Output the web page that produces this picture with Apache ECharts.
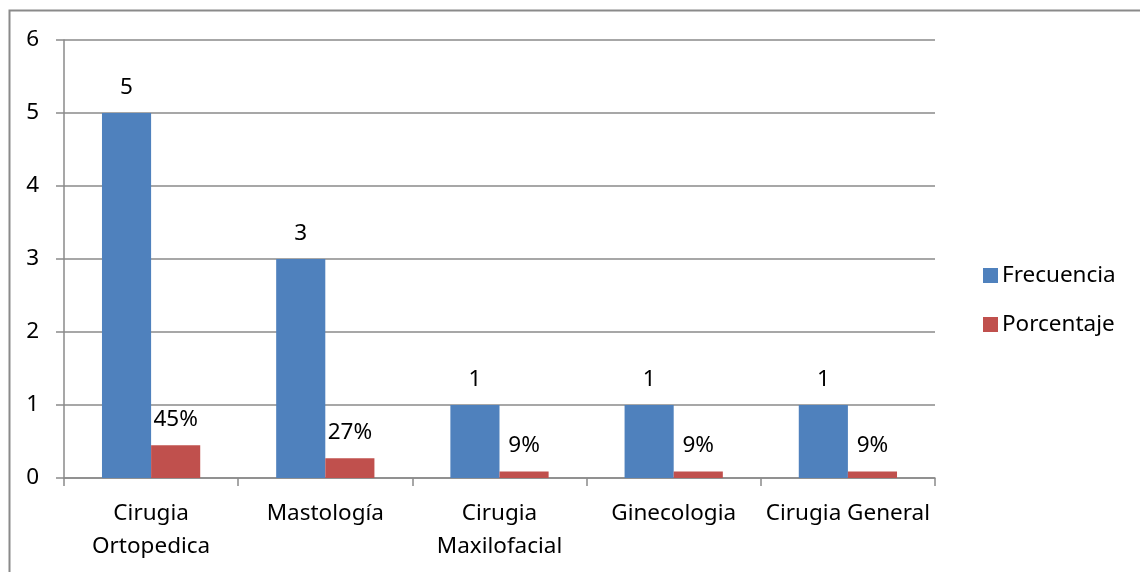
<!DOCTYPE html>
<html>
<head>
<meta charset="utf-8">
<script src="https://cdn.jsdelivr.net/npm/echarts@6/dist/echarts.min.js"></script>
<style>
  html, body { margin: 0; padding: 0; background: #fff; }
  #chart { width: 1140px; height: 572px; }
</style>
</head>
<body>
<div id="chart"></div>
<script>
// Cirugías por especialidad: frecuencia y porcentaje
const categories = ['Cirugia\nOrtopedica', 'Mastología', 'Cirugia\nMaxilofacial', 'Ginecologia', 'Cirugia General'];
const frecuencia = [5, 3, 1, 1, 1];
const porcentaje = [0.45, 0.27, 0.09, 0.09, 0.09];
const yTicks = [0, 1, 2, 3, 4, 5, 6];

const FONT = 'Noto Sans';
const FS = 22.5;
const GRAY = '#8a8a8a';

const chart = echarts.init(document.getElementById('chart'), null, { renderer: 'canvas' });

chart.setOption({
  backgroundColor: '#fff',
  animation: false,
  textStyle: { fontFamily: FONT, color: '#000' },
  graphic: [{
    type: 'rect',
    shape: { x: 9.5, y: 10.5, width: 1200, height: 700 },
    style: { fill: 'none', stroke: '#8a8a8a', lineWidth: 2 },
    silent: true,
    z: -10
  }],
  grid: { left: 64, right: 205, top: 40, bottom: 94, containLabel: false },
  legend: {
    orient: 'vertical',
    left: 978,
    top: 259,
    itemWidth: 15,
    itemHeight: 15,
    itemGap: 26,
    icon: 'rect',
    textStyle: { fontFamily: FONT, fontSize: FS, lineHeight: 21, color: '#000', padding: [0, 0, 0, -1] },
    data: ['Frecuencia', 'Porcentaje']
  },
  xAxis: {
    type: 'category',
    data: categories,
    axisLine: { lineStyle: { color: GRAY, width: 1.5 } },
    axisTick: { show: true, length: 8, lineStyle: { color: GRAY, width: 1.5 } },
    axisLabel: {
      fontFamily: FONT, fontSize: FS, color: '#000',
      margin: 19, lineHeight: 33, interval: 0
    }
  },
  yAxis: {
    type: 'value',
    min: yTicks[0],
    max: yTicks[yTicks.length - 1],
    interval: 1,
    axisLine: { show: true, lineStyle: { color: GRAY, width: 1.5 } },
    axisTick: { show: true, length: 8, lineStyle: { color: GRAY, width: 1.5 } },
    splitLine: { show: true, lineStyle: { color: GRAY, width: 1.5 } },
    axisLabel: { fontFamily: FONT, fontSize: FS, color: '#000', margin: 25 }
  },
  series: [
    {
      name: 'Frecuencia',
      type: 'bar',
      data: frecuencia,
      barGap: '0%',
      barCategoryGap: '43.6%',
      itemStyle: { color: '#4F81BD' },
      label: {
        show: true, position: 'top', distance: 15,
        fontFamily: FONT, fontSize: FS, lineHeight: 21, color: '#000'
      }
    },
    {
      name: 'Porcentaje',
      type: 'bar',
      data: porcentaje,
      itemStyle: { color: '#C0504D' },
      label: {
        show: true, position: 'top', distance: 15,
        fontFamily: FONT, fontSize: FS, lineHeight: 21, color: '#000',
        formatter: p => Math.round(p.value * 100) + '%'
      }
    }
  ]
});
</script>
</body>
</html>
